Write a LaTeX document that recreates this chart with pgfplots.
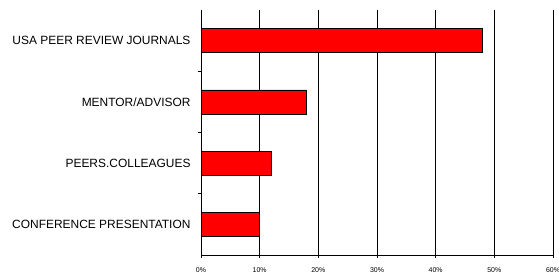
\documentclass[border=0pt]{standalone}
\usepackage{pgfplots}
\pgfplotsset{compat=1.18}
\usepackage{fontspec}
\setmainfont{Liberation Sans}
\begin{document}
\begin{tikzpicture}[x=1bp,y=1bp]
\useasboundingbox (0,0) rectangle (559,274);
\begin{axis}[
  at={(201bp,19bp)}, anchor=south west,
  scale only axis, width=352bp, height=245bp,
  xbar, bar width=24bp,
  xmin=0, xmax=60, ymin=-0.5, ymax=3.5,
  axis x line*=bottom, axis y line*=left,
  axis line style={-, black, line width=0.7pt},
  xtick={0,10,...,60},
  xticklabels={0\%,10\%,20\%,30\%,40\%,50\%,60\%},
  xmajorgrids, major grid style={black, line width=0.6pt},
  x tick label style={font=\fontsize{7}{8}\selectfont, yshift=-6bp},
  ytick={0,1,2,3},
  yticklabels={CONFERENCE PRESENTATION,PEERS.COLLEAGUES,MENTOR/ADVISOR,USA PEER REVIEW JOURNALS},
  y tick label style={font=\fontsize{12}{13}\selectfont, xshift=-4bp},
  major y tick style={draw=none},
  minor ytick={0.5,1.5,2.5},
  minor tick length=3bp,
  tick align=outside,
  major tick length=3bp,
  tick style={black, line width=0.6pt},
]
\addplot[fill=red, draw=black, line width=0.5pt] coordinates {(10,0) (12,1) (18,2) (48,3)};
\end{axis}
\end{tikzpicture}
\end{document}
